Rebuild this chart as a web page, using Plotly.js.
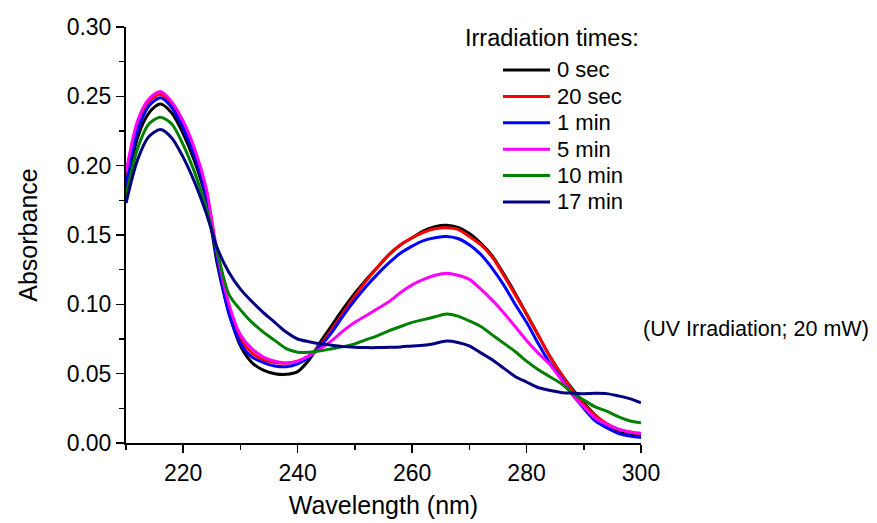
<!DOCTYPE html>
<html>
<head>
<meta charset="utf-8">
<script src="https://cdn.plot.ly/plotly-3.0.1.min.js"></script>
<style>html,body{margin:0;padding:0;background:#fff;}#chart{width:877px;height:523px;}</style>
</head>
<body>
<div id="chart"></div>
<script>
const wavelength = [210,212,214,216,218,220,222,224,226,228,230,232,234,236,238,240,242,244,246,248,250,252,254,256,258,260,262,264,266,268,270,272,274,276,278,280,282,284,286,288,290,292,294,296,298,300];

const seriesNames = ["0 sec","20 sec","1 min","5 min","10 min","17 min"];
const legendTitle = "Irradiation times:";
const noteText = "(UV Irradiation; 20 mW)";

const abs0sec = [0.180,0.220,0.238,0.2445,0.238,0.223,0.203,0.176,0.128,0.094,0.070,0.058,0.0525,0.050,0.0495,0.0515,0.060,0.073,0.085,0.097,0.108,0.118,0.127,0.136,0.143,0.148,0.153,0.156,0.157,0.1555,0.151,0.144,0.135,0.122,0.108,0.093,0.078,0.063,0.050,0.039,0.029,0.020,0.013,0.009,0.006,0.005];
const abs20sec = [0.190,0.229,0.246,0.2515,0.244,0.229,0.209,0.180,0.134,0.096,0.075,0.065,0.060,0.058,0.0575,0.059,0.063,0.071,0.082,0.094,0.106,0.117,0.127,0.136,0.143,0.148,0.152,0.1545,0.1552,0.154,0.149,0.143,0.134,0.121,0.107,0.093,0.078,0.063,0.050,0.038,0.028,0.020,0.014,0.010,0.008,0.0068];
const abs1min = [0.186,0.225,0.243,0.249,0.242,0.227,0.207,0.178,0.131,0.093,0.072,0.062,0.058,0.0555,0.055,0.057,0.062,0.070,0.080,0.092,0.103,0.113,0.122,0.130,0.137,0.142,0.146,0.148,0.149,0.1475,0.143,0.136,0.126,0.114,0.100,0.087,0.072,0.058,0.047,0.035,0.025,0.016,0.011,0.007,0.005,0.004];
const abs5min = [0.195,0.232,0.248,0.2535,0.246,0.232,0.212,0.184,0.136,0.100,0.078,0.068,0.062,0.059,0.0577,0.059,0.063,0.068,0.074,0.081,0.087,0.092,0.097,0.102,0.1085,0.114,0.118,0.121,0.1225,0.121,0.118,0.111,0.103,0.094,0.084,0.074,0.065,0.057,0.046,0.035,0.026,0.018,0.0135,0.010,0.008,0.007];
const abs10min = [0.178,0.212,0.230,0.235,0.230,0.215,0.195,0.170,0.137,0.107,0.096,0.087,0.080,0.074,0.068,0.0655,0.0655,0.0665,0.068,0.0695,0.0715,0.0745,0.0775,0.081,0.084,0.087,0.089,0.091,0.093,0.0915,0.088,0.084,0.078,0.072,0.066,0.059,0.053,0.048,0.043,0.036,0.031,0.026,0.023,0.019,0.016,0.0145];
const abs17min = [0.173,0.204,0.221,0.226,0.220,0.206,0.188,0.166,0.140,0.123,0.111,0.102,0.094,0.087,0.080,0.075,0.073,0.0715,0.0705,0.0695,0.069,0.0688,0.0688,0.069,0.0693,0.070,0.0705,0.0718,0.0735,0.0725,0.070,0.065,0.060,0.054,0.048,0.044,0.040,0.038,0.0365,0.036,0.0356,0.0358,0.0356,0.034,0.032,0.029];

const allSeries = [abs0sec, abs20sec, abs1min, abs5min, abs10min, abs17min];
const colors = ["#000000","#ff0000","#0000ff","#ff00ff","#008000","#000080"];

const traces = allSeries.map((ys, i) => ({
  x: wavelength, y: ys, name: seriesNames[i], type: 'scatter', mode: 'lines',
  line: {color: colors[i], width: 3, shape: 'spline', smoothing: 0.8}
}));

const W = 877, H = 523;
const M = {l: 126, r: 236, t: 27, b: 80};
const plotW = W - M.l - M.r, plotH = H - M.t - M.b;
const px2x = px => (px - M.l) / plotW;
const px2y = py => (H - M.b - py) / plotH;

const font = {family: 'Arial, "Liberation Sans", sans-serif', color: '#000'};
const f = s => Object.assign({size: s}, font);

// hand-built legend (layout only)
const shapes = [];
const annotations = [];
annotations.push({text: legendTitle, xref: 'paper', yref: 'paper', x: px2x(463), y: px2y(38),
  xanchor: 'left', yanchor: 'middle', showarrow: false, font: f(23.5)});
seriesNames.forEach((name, i) => {
  const yc = 70 + i * 26.4;
  shapes.push({type: 'line', xref: 'paper', yref: 'paper', x0: px2x(503), x1: px2x(550), y0: px2y(yc), y1: px2y(yc),
    line: {color: colors[i], width: 3}});
  annotations.push({text: name, xref: 'paper', yref: 'paper', x: px2x(555), y: px2y(yc),
    xanchor: 'left', yanchor: 'middle', showarrow: false, font: f(22)});
});
annotations.push({text: noteText, xref: 'paper', yref: 'paper', x: px2x(871), y: px2y(329),
  xanchor: 'right', yanchor: 'middle', showarrow: false, font: f(21.5)});

const layout = {
  width: W, height: H,
  margin: {l: M.l, r: M.r, t: M.t, b: M.b, pad: 0},
  paper_bgcolor: '#fff', plot_bgcolor: '#fff',
  font: f(22),
  showlegend: false,
  xaxis: {
    range: [210, 300], tickmode: 'linear', tick0: 220, dtick: 20,
    ticks: 'outside', ticklen: 8, tickwidth: 1.5, tickcolor: '#000',
    minor: {dtick: 10, tick0: 210, ticks: 'outside', ticklen: 5, tickwidth: 1.5, tickcolor: '#000', showgrid: false},
    showline: true, linecolor: '#000', linewidth: 2, mirror: false,
    showgrid: false, zeroline: false,
    tickfont: f(23),
    title: {text: 'Wavelength (nm)', font: f(25), standoff: 12}
  },
  yaxis: {
    range: [0, 0.30], tickmode: 'linear', tick0: 0, dtick: 0.05, tickformat: '.2f',
    ticks: 'outside', ticklen: 8, tickwidth: 1.5, tickcolor: '#000',
    minor: {dtick: 0.025, tick0: 0, ticks: 'outside', ticklen: 5, tickwidth: 1.5, tickcolor: '#000', showgrid: false},
    showline: true, linecolor: '#000', linewidth: 2, mirror: false,
    showgrid: false, zeroline: false,
    tickfont: f(23),
    title: {text: 'Absorbance', font: f(25), standoff: 22}
  },
  shapes: shapes,
  annotations: annotations
};

Plotly.newPlot('chart', traces, layout, {displayModeBar: false, staticPlot: true});
</script>
</body>
</html>
